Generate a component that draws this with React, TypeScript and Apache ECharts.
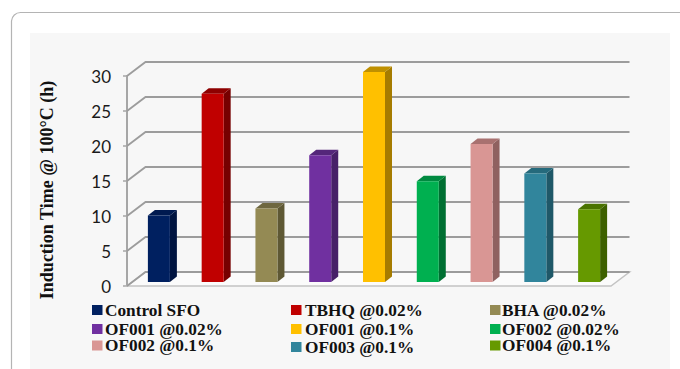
import React, { useEffect, useRef } from "react";
import * as echarts from "echarts";

const categories = [
  "Control SFO",
  "TBHQ @0.02%",
  "BHA @0.02%",
  "OF001 @0.02%",
  "OF001 @0.1%",
  "OF002 @0.02%",
  "OF002 @0.1%",
  "OF003 @0.1%",
  "OF004 @0.1%",
];
const inductionHours = [9.5, 26.9, 10.5, 18.1, 30.0, 14.4, 19.7, 15.5, 10.4];
const tickValues = [0, 5, 10, 15, 20, 25, 30];

const faceColors = ["#002060", "#C00000", "#948A54", "#7030A0", "#FFC000", "#00B050", "#D99694", "#31859C", "#669900"];
const sideColors = ["#001440", "#760000", "#5E5834", "#472068", "#A67C00", "#006F32", "#8F6160", "#1F5868", "#3D6000"];
const topColors = ["#001A50", "#8E0000", "#6E6740", "#54267A", "#BF9000", "#008A40", "#A87170", "#256A7C", "#4A7300"];

// Swatch/text placement of the nine legend entries, in reading order.
const legendColumns = [
  { swatch: 92, text: 105 },
  { swatch: 291, text: 305 },
  { swatch: 490, text: 502 },
];
const legendRowY = [
  [310, 310, 310],
  [329, 329, 329],
  [345.5, 347, 345.5],
];

// Oblique projection used for the back wall and the bars.
const WALL_DX = 18.5;
const WALL_DY = -14;
const BAR_SHIFT_X = 5;
const BAR_SHIFT_Y = -4;
const BAR_WIDTH = 22;
const BAR_DX = 7;
const BAR_DY = -5.5;

echarts.graphic.registerShape(
  "cardEdge",
  echarts.graphic.extendPath("M11.5 369 V21 A9 9 0 0 1 20.5 12.5 H680", {})
);

const serif = '"Liberation Serif", "Times New Roman", serif';

function legendGraphics() {
  const items: any[] = [];
  categories.forEach((name, i) => {
    const col = i % 3;
    const row = Math.floor(i / 3);
    const y = legendRowY[row][col];
    items.push({
      type: "rect",
      z: 10,
      shape: { x: legendColumns[col].swatch, y: y - 5, width: 10.5, height: 10 },
      style: { fill: faceColors[i] },
    });
    items.push({
      type: "text",
      z: 10,
      x: legendColumns[col].text,
      y,
      style: {
        text: name,
        fill: "#111111",
        font: `bold 17.3px ${serif}`,
        textAlign: "left",
        textVerticalAlign: "middle",
      },
    });
  });
  return items;
}

function renderFloor(params: any, api: any) {
  const cs = params.coordSys;
  const x0 = cs.x;
  const x1 = cs.x + cs.width;
  const y = api.coord([0, 0])[1];
  return {
    type: "polygon",
    shape: {
      points: [
        [x0, y],
        [x0 + WALL_DX, y + WALL_DY],
        [x1 + WALL_DX, y + WALL_DY],
        [x1, y],
      ],
    },
    style: { fill: "#FBFBFB", stroke: "#C4C4C4", lineWidth: 1.5 },
  };
}

function renderWallLine(params: any, api: any) {
  const cs = params.coordSys;
  const x0 = cs.x;
  const x1 = cs.x + cs.width;
  const y = api.coord([0, api.value(0)])[1];
  return {
    type: "polyline",
    shape: {
      points: [
        [x0, y],
        [x0 + WALL_DX, y + WALL_DY],
        [x1 + WALL_DX, y + WALL_DY],
      ],
    },
    style: { fill: "none", stroke: "#9C9C9C", lineWidth: 1.8 },
  };
}

function renderBar(_params: any, api: any) {
  const i = api.value(0);
  const top = api.coord([i, api.value(1)]);
  const base = api.coord([i, 0]);
  const left = top[0] + BAR_SHIFT_X - BAR_WIDTH / 2;
  const right = left + BAR_WIDTH;
  const yTop = top[1] + BAR_SHIFT_Y;
  const yBase = base[1] + BAR_SHIFT_Y;
  return {
    type: "group",
    children: [
      {
        type: "polygon",
        shape: {
          points: [
            [right, yTop],
            [right + BAR_DX, yTop + BAR_DY],
            [right + BAR_DX, yBase + BAR_DY],
            [right, yBase],
          ],
        },
        style: { fill: sideColors[i] },
      },
      {
        type: "polygon",
        shape: {
          points: [
            [left, yTop],
            [left + BAR_DX, yTop + BAR_DY],
            [right + BAR_DX, yTop + BAR_DY],
            [right, yTop],
          ],
        },
        style: { fill: topColors[i] },
      },
      {
        type: "rect",
        shape: { x: left, y: yTop, width: BAR_WIDTH, height: yBase - yTop },
        style: { fill: faceColors[i] },
      },
    ],
  };
}

export default function App() {
  const ref = useRef<HTMLDivElement>(null);

  useEffect(() => {
    const chart = echarts.init(ref.current!, undefined, { renderer: "svg" });
    chart.setOption({
      animation: false,
      backgroundColor: "#FFFFFF",
      grid: { left: 127, top: 76, width: 484, height: 210, containLabel: false },
      xAxis: {
        type: "category",
        data: categories,
        axisLine: { show: false },
        axisTick: { show: false },
        axisLabel: { show: false },
        splitLine: { show: false },
      },
      yAxis: {
        type: "value",
        min: 0,
        max: 30,
        interval: 5,
        name: "Induction Time @ 100°C (h)",
        nameLocation: "middle",
        nameRotate: 90,
        nameGap: 71,
        nameTextStyle: {
          fontFamily: serif,
          fontWeight: "bold",
          fontSize: 18,
          color: "#111111",
          padding: [0, 18, 0, 0],
        },
        axisLine: { show: true, lineStyle: { color: "#A6A6A6", width: 2 } },
        axisTick: { show: true, length: 4, lineStyle: { color: "#A6A6A6", width: 1.5 } },
        axisLabel: {
          margin: 16,
          fontFamily: "Lato",
          fontSize: 17,
          color: "#1A1A1A",
        },
        splitLine: { show: false },
      },
      graphic: {
        elements: [
          {
            type: "rect",
            z: -10,
            shape: { x: 30, y: 33, width: 640, height: 336 },
            style: { fill: "#F7F7F7" },
          },
          {
            type: "cardEdge",
            z: -9,
            x: 0,
            y: 0,
            style: { fill: "none", stroke: "#B4B4B4", lineWidth: 1.2 },
          },
          ...legendGraphics(),
        ],
      },
      series: [
        {
          type: "custom",
          silent: true,
          z: 1,
          clip: false,
          renderItem: renderFloor,
          data: [[0]],
        },
        {
          type: "custom",
          silent: true,
          z: 2,
          clip: false,
          renderItem: renderWallLine,
          encode: { y: 0 },
          data: tickValues.map((v) => [v]),
        },
        {
          type: "custom",
          silent: true,
          z: 3,
          clip: false,
          renderItem: renderBar,
          encode: { x: 0, y: 1 },
          data: inductionHours.map((v, i) => [i, v]),
        },
      ],
    });
    return () => chart.dispose();
  }, []);

  return (
    <div
      ref={ref}
      style={{ position: "absolute", left: 0, top: 0, width: 680, height: 369 }}
    />
  );
}
